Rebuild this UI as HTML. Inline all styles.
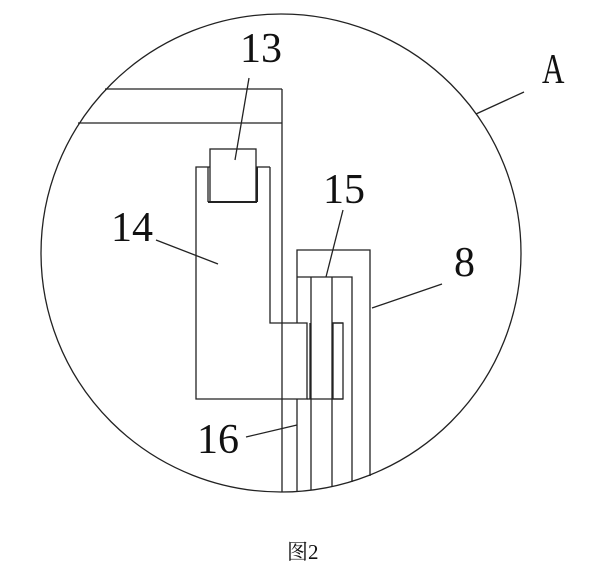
<!DOCTYPE html>
<html><head><meta charset="utf-8"><style>
html,body{margin:0;padding:0;background:#fff;}
svg{display:block;}
text{font-family:"Liberation Serif",serif;font-size:42px;fill:#111;}
</style></head><body>
<svg width="614" height="585" viewBox="0 0 614 585" xmlns="http://www.w3.org/2000/svg">
<g fill="none" stroke="#222" stroke-width="1.3">
<ellipse cx="281" cy="253" rx="240" ry="239"/>
<line x1="105" y1="89" x2="282" y2="89"/>
<line x1="78" y1="123" x2="282" y2="123"/>
<line x1="282" y1="89" x2="282" y2="492"/>
<polyline points="270,167 270,323 307,323 307,399 196,399 196,167 210,167"/>
<line x1="256" y1="167" x2="270" y2="167"/>
<rect x="210" y="149" width="46" height="53"/>
<line x1="208" y1="167" x2="208" y2="202"/>
<line x1="257" y1="167" x2="257" y2="202" stroke-width="2"/>
<line x1="208" y1="202" x2="257" y2="202" stroke-width="2"/>
<polyline points="297,323 297,250 370,250 370,476"/>
<polyline points="297,277 352,277 352,482"/>
<line x1="297" y1="399" x2="297" y2="491"/>
<line x1="311" y1="277" x2="311" y2="490"/>
<line x1="332" y1="277" x2="332" y2="487"/>
<line x1="310" y1="323" x2="310" y2="399"/>
<rect x="333" y="323" width="10" height="76"/>
<line x1="332" y1="323" x2="343" y2="323"/>
<line x1="307" y1="399" x2="343" y2="399"/>
<line x1="249" y1="78" x2="235" y2="160"/>
<line x1="156" y1="240" x2="218" y2="264"/>
<line x1="343" y1="210" x2="326" y2="277"/>
<line x1="246" y1="437" x2="297" y2="425"/>
<line x1="442" y1="284" x2="372" y2="308"/>
<line x1="524" y1="92" x2="476" y2="114"/>
</g>
<text x="240" y="62">13</text>
<text x="111" y="241">14</text>
<text x="323" y="203">15</text>
<text x="197" y="453">16</text>
<text x="454" y="276">8</text>
<text x="542" y="83" transform="translate(542,83) scale(0.74,1) translate(-542,-83)">A</text>
<text x="287" y="559" style="font-family:'Liberation Serif','Noto Serif CJK SC',serif;font-size:21px;">图2</text>
</svg>
</body></html>
